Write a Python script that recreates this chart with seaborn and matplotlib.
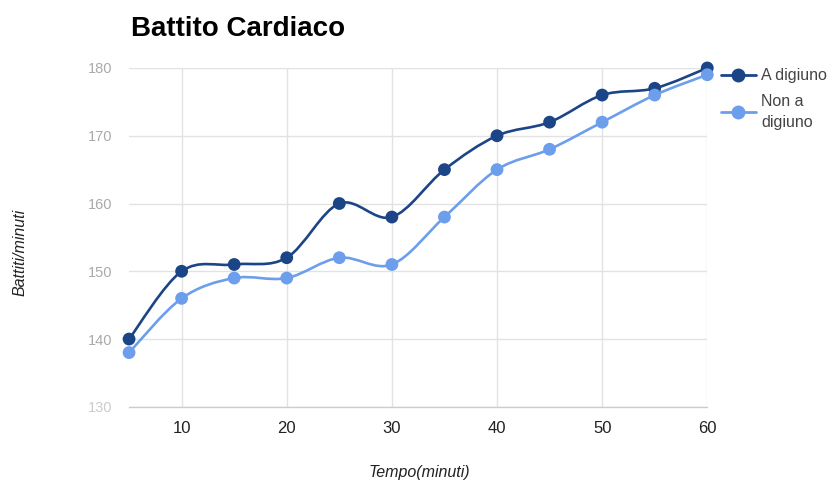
import numpy as np
import pandas as pd
import matplotlib
matplotlib.use("Agg")
import matplotlib.pyplot as plt
from matplotlib.path import Path
from matplotlib.patches import PathPatch
from matplotlib.lines import Line2D
import seaborn as sns

tempo = [5, 10, 15, 20, 25, 30, 35, 40, 45, 50, 55, 60]
a_digiuno = [140, 150, 151, 152, 160, 158, 165, 170, 172, 176, 177, 180]
non_a_digiuno = [138, 146, 149, 149, 152, 151, 158, 165, 168, 172, 176, 179]
series_names = ["A digiuno", "Non a\ndigiuno"]
colors = ["#1c4587", "#6d9eeb"]
x_ticks = [10, 20, 30, 40, 50, 60]
y_ticks = [130, 140, 150, 160, 170, 180]

df = pd.DataFrame({
    "Tempo": tempo * 2,
    "Battiti": a_digiuno + non_a_digiuno,
    "Serie": [series_names[0]] * len(tempo) + [series_names[1]] * len(tempo),
})

sns.set_style("white")
plt.rcParams["font.family"] = ["Liberation Sans", "DejaVu Sans"]

fig = plt.figure(figsize=(8.38, 4.82), dpi=100)
ax = fig.add_axes([0.154, 0.156, 0.69, 0.703])


def smooth_path(xs, ys, t=1/6):
    xs = np.asarray(xs, float)
    ys = np.asarray(ys, float)
    P = np.column_stack([xs, ys])
    n = len(P)
    verts = [P[0]]
    codes = [Path.MOVETO]
    for i in range(n - 1):
        p0 = P[i - 1] if i > 0 else P[i]
        p1 = P[i]
        p2 = P[i + 1]
        p3 = P[i + 2] if i + 2 < n else P[i + 1]
        c1 = p1 + (p2 - p0) * t
        c2 = p2 - (p3 - p1) * t
        verts += [c1, c2, p2]
        codes += [Path.CURVE4] * 3
    return Path(verts, codes)


for name, col in zip(series_names, colors):
    sub = df[df["Serie"] == name]
    patch = PathPatch(smooth_path(sub["Tempo"], sub["Battiti"]), facecolor="none",
                      edgecolor=col, linewidth=1.9, zorder=3, capstyle="round",
                      joinstyle="round", clip_on=False)
    ax.add_patch(patch)

sns.scatterplot(data=df, x="Tempo", y="Battiti", hue="Serie", palette=colors,
                hue_order=series_names, s=85, edgecolor="none", legend=False,
                ax=ax, zorder=4, clip_on=False)

ax.set_xlim(5, 60)
ax.set_ylim(130, 180)
ax.set_xticks(x_ticks)
ax.set_yticks(y_ticks)
ax.grid(True, color="#e2e2e2", linewidth=1.0)
ax.set_axisbelow(True)
for s in ["top", "left", "right"]:
    ax.spines[s].set_visible(False)
ax.spines["bottom"].set_color("#cccccc")
ax.spines["bottom"].set_linewidth(1.0)
ax.tick_params(axis="both", length=0)
ax.tick_params(axis="x", labelsize=12, labelcolor="#222222", pad=10)
ax.tick_params(axis="y", labelsize=10.5, labelcolor="#aaaaaa", pad=12)
ax.get_yticklabels()[0].set_color("#cccccc")

ax.set_xlabel("")
ax.set_ylabel("")
fig.text(0.5, 0.02, "Tempo(minuti)", fontsize=11.5, style="italic", color="#222222",
         ha="center", va="center")
fig.text(0.024, 0.477, "Battiti/minuti", fontsize=11.5, style="italic", color="#222222",
         ha="center", va="center", rotation=90)

fig.text(0.156, 0.94, "Battito Cardiaco", fontsize=20, fontweight="bold",
         color="#000000", ha="left", va="center")

handles = [Line2D([0], [0], color=c, linewidth=2.0, marker="o", markersize=9)
           for c in colors]
leg = ax.legend(handles, series_names, loc="upper left", bbox_to_anchor=(1.012, 1.018),
                frameon=False, fontsize=11.5, handlelength=2.2, handletextpad=0.35,
                labelspacing=0.65, borderaxespad=0.0)
for txt in leg.get_texts():
    txt.set_color("#444444")
    txt.set_linespacing(1.5)

fig.savefig("out.png", dpi=100, facecolor="white")
